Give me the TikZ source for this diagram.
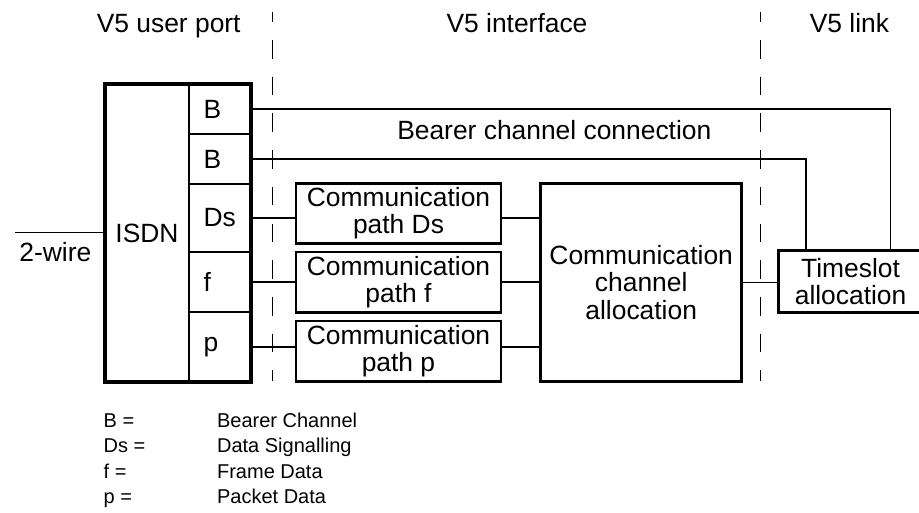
\documentclass[tikz,border=0pt]{standalone}
\usepackage{fontspec}
\setmainfont{Liberation Sans}
\usetikzlibrary{positioning}
\tikzset{
  v5box/.style={
    draw, line width=1.35bp, align=center, inner sep=2bp,
    font=\fontsize{13.2bp}{13.8bp}\selectfont
  },
  pathbox/.style={v5box, minimum width=102.5bp, minimum height=30bp},
  portbox/.style={
    inner sep=0pt, outer sep=0pt, minimum width=42bp, minimum height=149bp,
    font=\fontsize{13.2bp}{13.8bp}\selectfont
  },
  slotbox/.style={
    draw, line width=0.75bp, outer sep=0pt, inner ysep=0pt, inner xsep=7.25bp,
    text width=16.5bp, align=left, minimum width=31bp,
    font=\fontsize{13.2bp}{13.8bp}\selectfont
  },
  frame/.style={draw, line width=1.65bp},
  wire/.style={draw, line width=0.6bp},
  divider/.style={draw, line width=0.75bp, dash pattern=on 9.3bp off 9.05bp, dash phase=4.2bp},
  lbl/.style={anchor=base, inner sep=0pt, font=\fontsize{13.2bp}{13.8bp}\selectfont},
  leg/.style={anchor=base west, inner sep=0pt, font=\fontsize{10bp}{12bp}\selectfont}
}
\begin{document}
\begin{tikzpicture}[x=0.5bp, y=-0.5bp]
  \useasboundingbox (0,0) rectangle (919,513);
  % headings
  \node[lbl] (hport) at (168.7,33) {V5 user port};
  \node[lbl] (hif) at (517,33) {V5 interface};
  \node[lbl] (hlink) at (849.5,33) {V5 link};
  % user port
  \node[portbox] (isdn) at (147,233) {ISDN};
  \node[slotbox, minimum height=25bp, anchor=north west] (sb1) at (isdn.north east) {B};
  \node[slotbox, minimum height=25bp, below=0pt of sb1] (sb2) {B};
  \node[slotbox, minimum height=34bp, below=0pt of sb2] (sds) {Ds};
  \node[slotbox, minimum height=30bp, below=0pt of sds] (sf) {f};
  \node[slotbox, minimum height=35bp, below=0pt of sf] (sp) {p};
  \draw[frame] (isdn.north west) rectangle (sp.south east);
  \coordinate (wire) at (15,232.7);
  \draw[wire] (wire) -- (wire -| isdn.west);
  \node[lbl] (wlbl) at (55.3,261.7) {2-wire};
  % interface
  \node[pathbox] (pds) at (398.5,213.3) {Communication\\path Ds};
  \node[pathbox, below=3bp of pds] (pf) {Communication\\path f};
  \node[pathbox, below=3bp of pf] (pp) {Communication\\path p};
  \node[v5box, minimum width=100.5bp, minimum height=99.2bp] (cca) at (641.2,282.5) {Communication\\channel\\allocation};
  \node[v5box, minimum width=72.35bp, minimum height=31bp] (ts) at (850.6,281.7) {Timeslot\\allocation};
  \foreach \s/\c in {sds/pds,sf/pf,sp/pp} {
    \draw[wire] (\s.east) -- (\s.east -| \c.west);
    \draw[wire] (\s.east -| \c.east) -- (\s.east -| cca.west);
  }
  \draw[wire] (cca.east) -- (cca.east -| ts.west);
  \draw[wire] (sb1.east) -| ([xshift=20.05bp]ts.north);
  \draw[wire] (sb2.east) -| ([xshift=-22.3bp]ts.north);
  \node[lbl] (bcc) at (554.3,139.5) {Bearer channel connection};
  % dividers
  \foreach \x/\n in {272.7/da,760.7/db} {
    \coordinate (\n top) at (\x,11.7);
    \coordinate (\n bot) at (\x,381);
    \draw[divider] (\n top) -- (\n bot);
  }
  % legend
  \foreach \k/\v [count=\i] in {B/Bearer Channel,Ds/Data Signalling,f/Frame Data,p/Packet Data} {
    \node[leg] (lk\i) at (103.3,{427.5+25.4*(\i-1)}) {\k{} =};
    \node[leg] (lv\i) at (216.7,{427.5+25.4*(\i-1)}) {\v};
  }
\end{tikzpicture}
\end{document}
